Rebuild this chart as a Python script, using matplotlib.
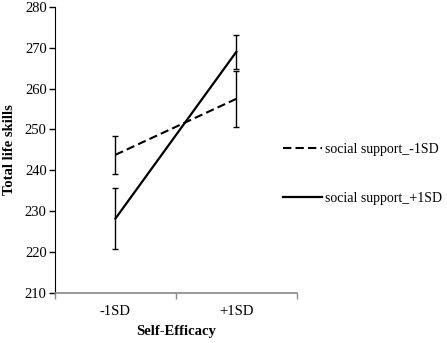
import matplotlib
matplotlib.use("Agg")
import matplotlib.pyplot as plt
from matplotlib.lines import Line2D

categories = ["-1SD", "+1SD"]
series_names = ["social support_-1SD", "social support_+1SD"]
low_support = [243.8, 257.5]
low_err = [4.6, 6.9]
high_support = [228.2, 269.0]
high_err = [7.4, 4.2]
y_ticks = [210, 220, 230, 240, 250, 260, 270, 280]

plt.rcParams['font.family'] = ['Liberation Serif', 'DejaVu Serif']

fig = plt.figure(figsize=(4.47, 3.43), dpi=100)
ax = fig.add_axes([0.123, 0.146, 0.541, 0.834])

xpos = [0.5, 1.5]
ax.errorbar(xpos, low_support, yerr=low_err, color='black', lw=1.5, ls=(0, (4, 2)),
            elinewidth=1.0, capsize=2.5, capthick=1.0)
ax.errorbar(xpos, high_support, yerr=high_err, color='black', lw=1.6, ls='-',
            elinewidth=1.0, capsize=2.5, capthick=1.0)

ax.set_xlim(0, 2)
ax.set_ylim(210, 280)
ax.set_yticks(y_ticks)
ax.tick_params(axis='y', direction='out', length=4, width=1, labelsize=10.5, pad=2)
ax.set_xticks([0, 1, 2])
ax.set_xticklabels([])
ax.tick_params(axis='x', which='major', direction='out', length=4, width=1, color='#888888')
ax.set_xticks(xpos, minor=True)
ax.set_xticklabels(categories, minor=True)
ax.tick_params(axis='x', which='minor', length=0, labelsize=10.5, pad=9)

for s in ['top', 'right']:
    ax.spines[s].set_visible(False)
ax.spines['left'].set_color('black')
ax.spines['bottom'].set_color('#888888')
ax.spines['bottom'].set_linewidth(1.2)

ax.set_xlabel("Self-Efficacy", fontweight='bold', fontsize=10.5, labelpad=5)
ax.set_ylabel("Total life skills", fontweight='bold', fontsize=10.5, labelpad=6)

handles = [Line2D([0], [0], color='black', lw=1.5, ls=(0, (4, 2))),
           Line2D([0], [0], color='black', lw=1.6, ls='-')]
fig.legend(handles, series_names, loc='center left', bbox_to_anchor=(0.633, 0.492),
           frameon=False, fontsize=10, handlelength=2.8, handletextpad=0.2,
           labelspacing=2.6, borderaxespad=0, borderpad=0)

fig.savefig("out.png", dpi=100)
